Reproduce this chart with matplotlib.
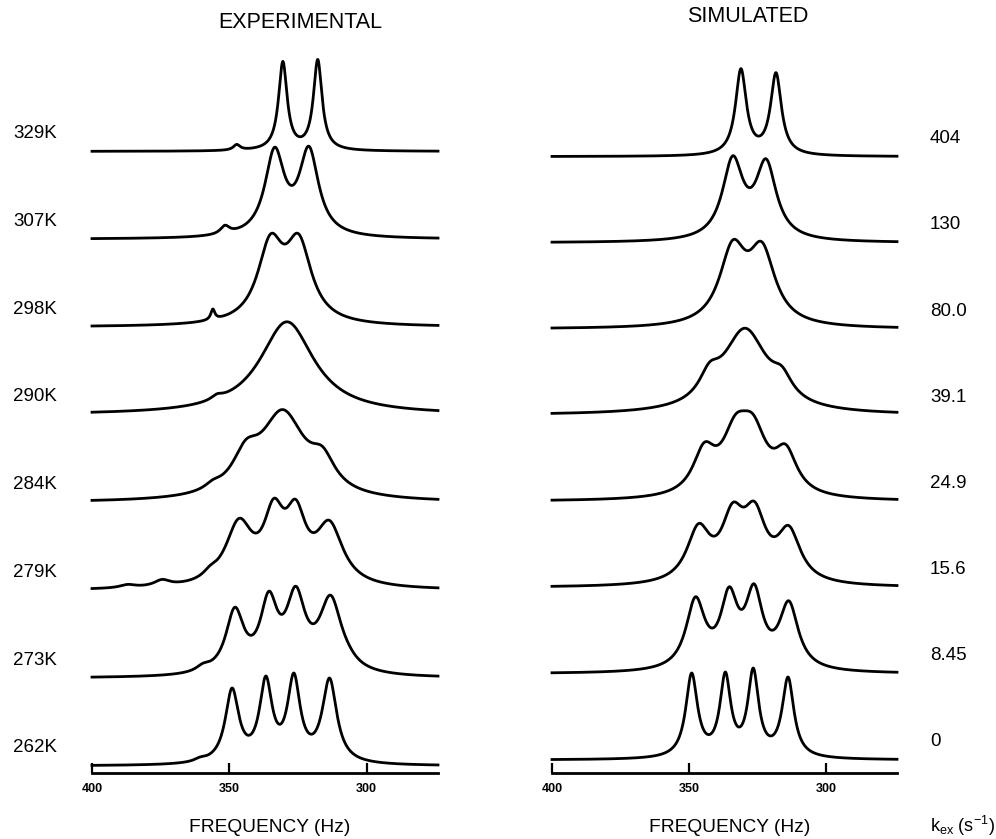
import numpy as np
import matplotlib
matplotlib.use("Agg")
import matplotlib.pyplot as plt
from matplotlib import transforms

plt.rcParams['font.family'] = ['Liberation Sans', 'DejaVu Sans']

# Experimental spectra, top to bottom.
# Each line: peak / shoulder positions (Hz), curve height there, half width (Hz)
exp_labels = ['329K', '307K', '298K', '290K', '284K', '279K', '273K', '262K']
exp_centers = [
    [347.3, 330.5, 317.8],
    [351.6, 333.5, 321.0],
    [356.0, 335.0, 324.7],
    [354.5, 329.0],
    [356.0, 344.0, 330.5, 316.0],
    [387.0, 374.5, 357.0, 346.5, 333.8, 325.8, 313.5],
    [359.6, 348.0, 335.6, 325.8, 313.1, 307.0],
    [360.7, 349.0, 336.7, 326.5, 313.5],
]
exp_heights = [
    [7, 90, 92],
    [14, 92, 93],
    [18, 93, 93],
    [21, 93],
    [23, 63, 93, 56],
    [6, 11, 25, 72, 92, 91, 70],
    [15, 71, 87, 92, 83, 37],
    [9, 78, 90, 93, 88],
]
exp_widths = [
    [1.5, 1.9, 1.9],
    [2.0, 4.3, 4.3],
    [0.9, 5.7, 5.7],
    [2.5, 12.0],
    [3.5, 6.0, 10.0, 5.5],
    [3.5, 3.5, 3.0, 6.0, 4.5, 4.5, 6.0],
    [3.0, 4.0, 3.8, 4.2, 5.0, 4.0],
    [2.5, 3.0, 2.8, 2.8, 3.2],
]

# Simulated spectra, top to bottom, labelled by k_ex (s^-1)
sim_labels = ['404', '130', '80.0', '39.1', '24.9', '15.6', '8.45', '0']
sim_centers = [
    [331.0, 318.2],
    [334.0, 321.8],
    [334.0, 323.3],
    [342.5, 329.5, 316.0],
    [344.4, 333.0, 326.5, 314.6],
    [346.5, 334.0, 326.0, 313.5],
    [347.6, 335.3, 326.2, 313.5],
    [349.0, 336.7, 326.5, 313.8],
]
sim_heights = [
    [88, 84],
    [87, 84],
    [89, 87],
    [53, 87, 49],
    [59, 87, 87, 57],
    [64, 85, 86, 62],
    [77, 87, 90, 73],
    [87, 88, 92, 83],
]
sim_widths = [
    [2.4, 2.4],
    [4.6, 4.6],
    [5.9, 5.9],
    [4.5, 10.0, 4.5],
    [5.0, 6.0, 6.0, 5.0],
    [5.2, 5.0, 5.0, 5.2],
    [4.2, 3.8, 3.8, 4.2],
    [2.6, 2.4, 2.4, 2.6],
]

freq_ticks = [400, 350, 300]


def lorentz_sum(freq, centers, heights, widths):
    # amplitudes chosen so the summed curve hits the read heights at the centers
    c = np.array(centers, dtype=float)
    h = np.array(heights, dtype=float)
    w = np.array(widths, dtype=float)
    M = 1.0 / (1.0 + ((c[:, None] - c[None, :]) / w[None, :]) ** 2)
    amps = np.linalg.solve(M, h)
    return (amps[None, :] / (1.0 + ((freq[:, None] - c[None, :]) / w[None, :]) ** 2)).sum(axis=1)


freq = np.linspace(400, 274, 2000)

fig = plt.figure(figsize=(9.96, 8.39), dpi=100)
ax_exp = fig.add_axes([92 / 996, 66 / 839, 346 / 996, 743 / 839])
ax_sim = fig.add_axes([552 / 996, 66 / 839, 345 / 996, 743 / 839])

for ax in (ax_exp, ax_sim):
    ax.set_xlim(400, 274)
    ax.set_ylim(0, 743)
    for side in ('top', 'left', 'right'):
        ax.spines[side].set_visible(False)
    ax.spines['bottom'].set_linewidth(2.0)
    ax.set_yticks([])
    ax.set_xticks(freq_ticks)
    ax.set_xticklabels([str(t) for t in freq_ticks])
    ax.tick_params(axis='x', direction='in', length=7, width=1.6, pad=7, labelsize=9)
    for lbl in ax.get_xticklabels():
        lbl.set_fontweight('bold')
    ax.patch.set_alpha(0)

n = len(exp_labels)
trans_exp = transforms.blended_transform_factory(fig.transFigure, ax_exp.transData)
for i in range(n):
    offset = 7 + 87.8 * (n - 1 - i)
    y = lorentz_sum(freq, exp_centers[i], exp_heights[i], exp_widths[i])
    ax_exp.plot(freq, y + offset, color='black', lw=2.0, clip_on=False)
    ax_exp.text(13 / 996, offset + 18, exp_labels[i], transform=trans_exp,
                ha='left', va='center', fontsize=13.5)

trans_sim = transforms.blended_transform_factory(fig.transFigure, ax_sim.transData)
for i in range(n):
    offset = 13 + 86.2 * (n - 1 - i)
    y = lorentz_sum(freq, sim_centers[i], sim_heights[i], sim_widths[i])
    ax_sim.plot(freq, y + offset, color='black', lw=2.0, clip_on=False)
    ax_sim.text(930 / 996, offset + 18, sim_labels[i], transform=trans_sim,
                ha='left', va='center', fontsize=13.5)

fig.text(300 / 996, 1 - 23 / 839, 'EXPERIMENTAL', ha='center', va='center', fontsize=15.5)
fig.text(748 / 996, 1 - 17 / 839, 'SIMULATED', ha='center', va='center', fontsize=15.5)
fig.text(270 / 996, 1 - 828 / 839, 'FREQUENCY (Hz)', ha='center', va='center', fontsize=13.8)
fig.text(730 / 996, 1 - 828 / 839, 'FREQUENCY (Hz)', ha='center', va='center', fontsize=13.8)
fig.text(930 / 996, 1 - 826 / 839, r'k$_{\mathregular{ex}}$ (s$^{\mathregular{-1}}$)',
         ha='left', va='center', fontsize=13)

fig.savefig('out.png', dpi=100)
